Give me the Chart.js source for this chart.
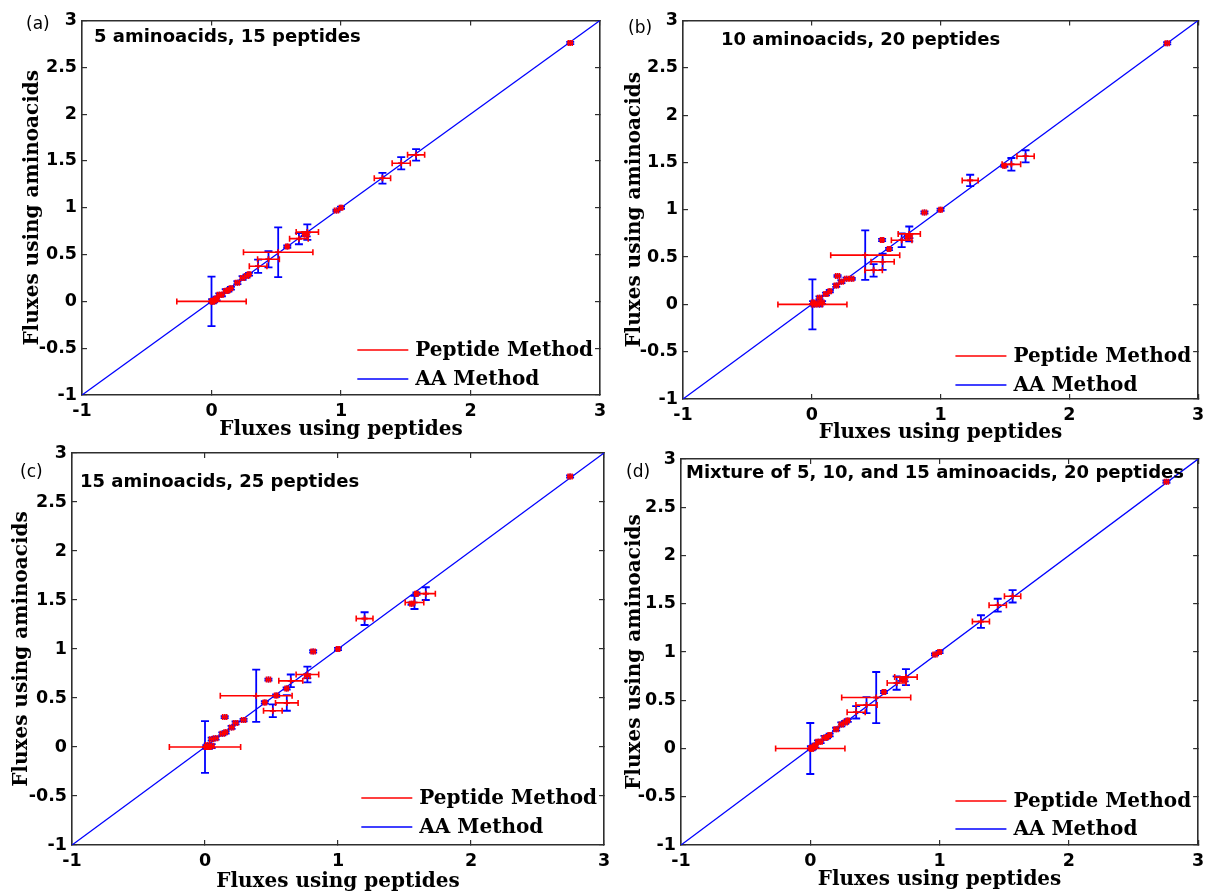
<!DOCTYPE html>
<html>
<head>
<meta charset="utf-8">
<script src="https://cdn.jsdelivr.net/npm/chart.js@4.4.1/dist/chart.umd.min.js"></script>
<style>
html,body{margin:0;padding:0;background:#fff;overflow:hidden;}
#wrap{position:relative;width:1215px;height:894px;background:#fff;}
#wrap canvas{position:absolute;left:0;top:0;}
</style>
</head>
<body>
<div id="wrap">
<canvas id="ca" width="1215" height="894"></canvas>
<canvas id="cb" width="1215" height="894"></canvas>
<canvas id="cc" width="1215" height="894"></canvas>
<canvas id="cd" width="1215" height="894"></canvas>
</div>
<script>
// ---------------- data ----------------
const xTickLabels = ['-1', '0', '1', '2', '3'];
const yTickLabels = ['-1', '-0.5', '0', '0.5', '1', '1.5', '2', '2.5', '3'];
const seriesLabels = ['Peptide Method', 'AA Method'];
const xTitle = 'Fluxes using peptides';
const yTitle = 'Fluxes using aminoacids';
const panelLabels = ['(a)', '(b)', '(c)', '(d)'];
const panelTitles = ['5 aminoacids, 15 peptides', '10 aminoacids, 20 peptides', '15 aminoacids, 25 peptides', 'Mixture of 5, 10, and 15 aminoacids, 20 peptides'];
const diagX = [-1, 3];

// panel (a)
const pepA = [0.00, 0.005, 0.01, 0.02, 0.03, 0.04, 0.06, 0.08, 0.11, 0.13, 0.15, 0.20, 0.24, 0.27, 0.29, 0.36, 0.44, 0.515, 0.585, 0.675, 0.74, 0.72, 0.735, 0.965, 1.00, 1.32, 1.465, 1.58, 2.77];
const aaA = [0.00, 0.005, -0.005, 0.01, 0.02, 0.03, 0.07, 0.07, 0.11, 0.12, 0.14, 0.20, 0.25, 0.27, 0.29, 0.375, 0.45, 0.525, 0.585, 0.67, 0.74, 0.72, 0.715, 0.97, 1.00, 1.315, 1.475, 1.565, 2.76];
const pepErrA = [0.268, 0.015, 0.012, 0.015, 0.012, 0.015, 0.015, 0.012, 0.015, 0.012, 0.012, 0.015, 0.015, 0.015, 0.012, 0.068, 0.084, 0.268, 0.012, 0.072, 0.086, 0.015, 0.015, 0.015, 0.012, 0.063, 0.07, 0.066, 0.015];
const aaErrA = [0.265, 0.02, 0.015, 0.02, 0.015, 0.02, 0.015, 0.015, 0.02, 0.015, 0.015, 0.015, 0.02, 0.015, 0.015, 0.07, 0.086, 0.266, 0.012, 0.06, 0.083, 0.02, 0.02, 0.01, 0.012, 0.058, 0.065, 0.061, 0.012];

// panel (b)
const pepB = [0.005, 0.02, 0.04, 0.06, 0.08, 0.01, 0.06, 0.11, 0.14, 0.19, 0.20, 0.23, 0.27, 0.31, 0.415, 0.48, 0.55, 0.546, 0.60, 0.698, 0.757, 0.758, 0.745, 0.875, 1.00, 1.23, 1.55, 1.495, 1.66, 2.76];
const aaB = [0.00, 0.00, 0.01, 0.00, 0.02, 0.02, 0.07, 0.11, 0.14, 0.20, 0.30, 0.24, 0.27, 0.27, 0.52, 0.36, 0.45, 0.68, 0.585, 0.678, 0.745, 0.72, 0.715, 0.97, 1.00, 1.31, 1.48, 1.465, 1.565, 2.76];
const pepErrB = [0.268, 0.015, 0.015, 0.02, 0.015, 0.012, 0.015, 0.015, 0.012, 0.015, 0.015, 0.015, 0.015, 0.015, 0.268, 0.068, 0.09, 0.012, 0.012, 0.08, 0.086, 0.02, 0.015, 0.015, 0.012, 0.062, 0.072, 0.012, 0.067, 0.015];
const aaErrB = [0.265, 0.02, 0.02, 0.02, 0.015, 0.015, 0.015, 0.015, 0.012, 0.015, 0.01, 0.015, 0.012, 0.01, 0.262, 0.066, 0.085, 0.012, 0.012, 0.072, 0.078, 0.02, 0.015, 0.012, 0.012, 0.06, 0.067, 0.012, 0.064, 0.012];

// panel (c)
const pepC = [0.00, 0.01, 0.03, 0.05, 0.02, 0.05, 0.08, 0.13, 0.155, 0.148, 0.20, 0.23, 0.29, 0.385, 0.45, 0.477, 0.51, 0.615, 0.535, 0.614, 0.645, 0.77, 0.769, 0.813, 1.00, 1.20, 1.575, 1.553, 1.66, 1.59, 2.745];
const aaC = [0.00, 0.00, 0.00, 0.01, 0.02, 0.08, 0.09, 0.135, 0.15, 0.305, 0.20, 0.245, 0.275, 0.523, 0.455, 0.688, 0.37, 0.45, 0.525, 0.597, 0.675, 0.74, 0.722, 0.975, 1.00, 1.31, 1.475, 1.463, 1.565, 1.565, 2.76];
const pepErrC = [0.268, 0.015, 0.015, 0.015, 0.015, 0.015, 0.015, 0.015, 0.012, 0.015, 0.015, 0.015, 0.015, 0.27, 0.012, 0.015, 0.07, 0.085, 0.012, 0.012, 0.09, 0.085, 0.02, 0.015, 0.012, 0.063, 0.07, 0.012, 0.072, 0.012, 0.015];
const aaErrC = [0.265, 0.02, 0.02, 0.02, 0.015, 0.015, 0.015, 0.015, 0.012, 0.01, 0.015, 0.015, 0.012, 0.267, 0.012, 0.01, 0.065, 0.08, 0.012, 0.012, 0.065, 0.08, 0.02, 0.012, 0.012, 0.065, 0.067, 0.012, 0.065, 0.012, 0.012];

// panel (d)
const pepD = [0.00, 0.005, 0.01, 0.02, 0.03, 0.04, 0.06, 0.08, 0.11, 0.13, 0.15, 0.20, 0.24, 0.27, 0.29, 0.355, 0.435, 0.51, 0.57, 0.668, 0.74, 0.71, 0.73, 0.965, 1.00, 1.32, 1.45, 1.565, 2.755];
const aaD = [0.00, 0.005, -0.005, 0.01, 0.02, 0.03, 0.07, 0.07, 0.11, 0.12, 0.14, 0.20, 0.25, 0.27, 0.29, 0.375, 0.45, 0.528, 0.586, 0.678, 0.74, 0.72, 0.715, 0.975, 1.00, 1.315, 1.485, 1.577, 2.765];
const pepErrD = [0.268, 0.015, 0.012, 0.015, 0.012, 0.015, 0.015, 0.012, 0.015, 0.012, 0.012, 0.015, 0.015, 0.015, 0.012, 0.07, 0.082, 0.267, 0.012, 0.073, 0.087, 0.015, 0.015, 0.015, 0.012, 0.066, 0.067, 0.063, 0.015];
const aaErrD = [0.264, 0.02, 0.015, 0.02, 0.015, 0.02, 0.015, 0.015, 0.02, 0.015, 0.015, 0.015, 0.02, 0.015, 0.015, 0.064, 0.083, 0.265, 0.012, 0.069, 0.083, 0.02, 0.02, 0.01, 0.012, 0.066, 0.067, 0.064, 0.012];

// ---------------- layout (page pixels) ----------------
const panelLayout = [
  {canvas: 'ca', area: {l: 82, t: 14, r: 600, b: 395}, yTitleX: 33, xTitleOff: 35, labelPos: [26, 25], subPos: [94, 37], legendOff: [45, 16]},
  {canvas: 'cb', area: {l: 683, t: 13, r: 1206, b: 399}, yTitleX: 635, xTitleOff: 34, labelPos: [628, 29], subPos: [721, 40], legendOff: [43, 14]},
  {canvas: 'cc', area: {l: 72, t: 453, r: 604, b: 845}, yTitleX: 21.5, xTitleOff: 37, labelPos: [20, 473], subPos: [80, 482], legendOff: [47, 18]},
  {canvas: 'cd', area: {l: 681, t: 459, r: 1206, b: 845}, yTitleX: 635, xTitleOff: 35, labelPos: [626, 473], subPos: [686, 473], legendOff: [44, 16]}
];

const serifFamily = '"DejaVu Serif"';
const serifSize = 20;
const serifWeight = 'bold';

// ---------------- plugins ----------------
const errorBarPlugin = {
  id: 'errorBars',
  afterDatasetDraw(chart, args) {
    const ds = chart.data.datasets[args.index];
    if (!ds.errDir) return;
    const xs = chart.scales.x, ys = chart.scales.y, ctx = chart.ctx;
    ctx.save();
    ctx.strokeStyle = ds.borderColor;
    ctx.lineWidth = ds.errWidth;
    ctx.beginPath();
    ds.data.forEach((p, i) => {
      const e = ds.errors[i];
      const c = ds.capSize;
      if (ds.errDir === 'x') {
        const x1 = xs.getPixelForValue(p.x - e), x2 = xs.getPixelForValue(p.x + e), y = ys.getPixelForValue(p.y);
        ctx.moveTo(x1, y); ctx.lineTo(x2, y);
        ctx.moveTo(x1, y - c); ctx.lineTo(x1, y + c);
        ctx.moveTo(x2, y - c); ctx.lineTo(x2, y + c);
      } else {
        const y1 = ys.getPixelForValue(p.y - e), y2 = ys.getPixelForValue(p.y + e), x = xs.getPixelForValue(p.x);
        ctx.moveTo(x, y1); ctx.lineTo(x, y2);
        ctx.moveTo(x - c, y1); ctx.lineTo(x + c, y1);
        ctx.moveTo(x - c, y2); ctx.lineTo(x + c, y2);
      }
    });
    ctx.stroke();
    ctx.restore();
  }
};

const legendPlugin = {
  id: 'cornerLegend',
  afterDraw(chart, args, opts) {
    const ctx = chart.ctx;
    const {right, bottom} = chart.chartArea;
    const items = chart.data.datasets.filter(d => d.inLegend);
    ctx.save();
    ctx.font = serifWeight + ' ' + serifSize + 'px ' + serifFamily;
    ctx.textBaseline = 'middle';
    ctx.textAlign = 'left';
    const maxW = Math.max(...items.map(d => ctx.measureText(d.label).width));
    const tx = right - 7 - maxW;
    items.forEach((d, k) => {
      const y = bottom - opts.offsets[0] + k * (opts.offsets[0] - opts.offsets[1]);
      ctx.strokeStyle = d.borderColor;
      ctx.lineWidth = 1.5;
      ctx.beginPath();
      ctx.moveTo(tx - 58, y); ctx.lineTo(tx - 7, y);
      ctx.stroke();
      ctx.fillStyle = '#000';
      ctx.fillText(d.label, tx, y + 1);
    });
    ctx.restore();
  }
};

const panelTextPlugin = {
  id: 'panelText',
  afterDraw(chart, args, opts) {
    const ctx = chart.ctx;
    ctx.save();
    ctx.fillStyle = '#000';
    ctx.textBaseline = 'middle';
    ctx.textAlign = 'left';
    ctx.font = '17px "DejaVu Sans"';
    ctx.fillText(opts.label, opts.labelPos[0], opts.labelPos[1]);
    ctx.font = 'bold 18px "DejaVu Sans"';
    ctx.fillText(opts.subtitle, opts.subPos[0], opts.subPos[1]);
    ctx.restore();
  }
};

// ---------------- chart factory ----------------
function makeChart(k, pep, aa, pepErr, aaErr) {
  const cfg = panelLayout[k];
  const W = 1215, H = 894, YW = 70, XH = 48, TL = -5;
  const A = cfg.area;
  const axisColor = '#2e2e2e';
  const tickFont = {family: '"DejaVu Sans"', size: 17.5, weight: 'bold', lineHeight: 1.2};
  const titleFont = {family: serifFamily, size: serifSize, weight: serifWeight, lineHeight: 1};
  const points = pep.map((x, i) => ({x: x, y: aa[i]}));
  const gridOpts = {drawOnChartArea: false, drawTicks: true, tickLength: TL, color: axisColor, lineWidth: 1.2};
  const borderOpts = {display: true, color: axisColor, width: 1.6};
  return new Chart(document.getElementById(cfg.canvas), {
    type: 'scatter',
    data: {
      datasets: [
        {label: seriesLabels[0], data: points, errors: pepErr, errDir: 'x', errWidth: 1.6, capSize: 3,
         borderColor: '#ff0000', backgroundColor: '#ff0000', pointStyle: 'cross', pointRadius: 3, borderWidth: 1.6,
         inLegend: true, xAxisID: 'x', yAxisID: 'y'},
        {label: seriesLabels[1], data: points, errors: aaErr, errDir: 'y', errWidth: 1.8, capSize: 4,
         borderColor: '#0000ff', backgroundColor: '#0000ff', pointStyle: 'cross', pointRadius: 3, borderWidth: 1.5,
         inLegend: true, xAxisID: 'x', yAxisID: 'y'},
        {type: 'line', label: 'y = x', data: diagX.map(v => ({x: v, y: v})), borderColor: '#0000ff', borderWidth: 1.3,
         pointRadius: 0, fill: false, xAxisID: 'x', yAxisID: 'y'}
      ]
    },
    options: {
      responsive: false,
      animation: false,
      events: [],
      layout: {padding: {left: A.l - YW, top: A.t, right: W - A.r, bottom: H - A.b - XH}},
      plugins: {
        legend: {display: false},
        tooltip: {enabled: false},
        cornerLegend: {offsets: cfg.legendOff},
        panelText: {label: panelLabels[k], subtitle: panelTitles[k], labelPos: cfg.labelPos, subPos: cfg.subPos}
      },
      scales: {
        x: {
          type: 'linear', position: 'bottom', min: -1, max: 3,
          ticks: {stepSize: 1, padding: 5.8 - TL, font: tickFont, color: '#000', maxRotation: 0,
                  callback: (v, i) => xTickLabels[i]},
          grid: gridOpts, border: borderOpts,
          title: {display: true, text: xTitle, font: titleFont, color: '#000',
                  padding: {top: 0, bottom: XH - cfg.xTitleOff - serifSize / 2}},
          afterFit: s => { s.height = XH; }
        },
        y: {
          type: 'linear', position: 'left', min: -1, max: 3,
          ticks: {stepSize: 0.5, padding: 5 - TL, font: tickFont, color: '#000',
                  callback: (v, i) => yTickLabels[i]},
          grid: gridOpts, border: borderOpts,
          title: {display: true, text: yTitle, font: titleFont, color: '#000',
                  padding: {top: cfg.yTitleX - (A.l - YW) - serifSize / 2, bottom: 0}},
          afterFit: s => { s.width = YW; }
        },
        x2: {
          type: 'linear', axis: 'x', position: 'top', min: -1, max: 3,
          ticks: {display: false, stepSize: 1},
          grid: gridOpts, border: borderOpts,
          afterFit: s => { s.height = 0; }
        },
        y2: {
          type: 'linear', axis: 'y', position: 'right', min: -1, max: 3,
          ticks: {display: false, stepSize: 0.5},
          grid: gridOpts, border: borderOpts,
          afterFit: s => { s.width = 0; }
        }
      }
    },
    plugins: [errorBarPlugin, legendPlugin, panelTextPlugin]
  });
}

makeChart(0, pepA, aaA, pepErrA, aaErrA);
makeChart(1, pepB, aaB, pepErrB, aaErrB);
makeChart(2, pepC, aaC, pepErrC, aaErrC);
makeChart(3, pepD, aaD, pepErrD, aaErrD);
</script>
</body>
</html>
